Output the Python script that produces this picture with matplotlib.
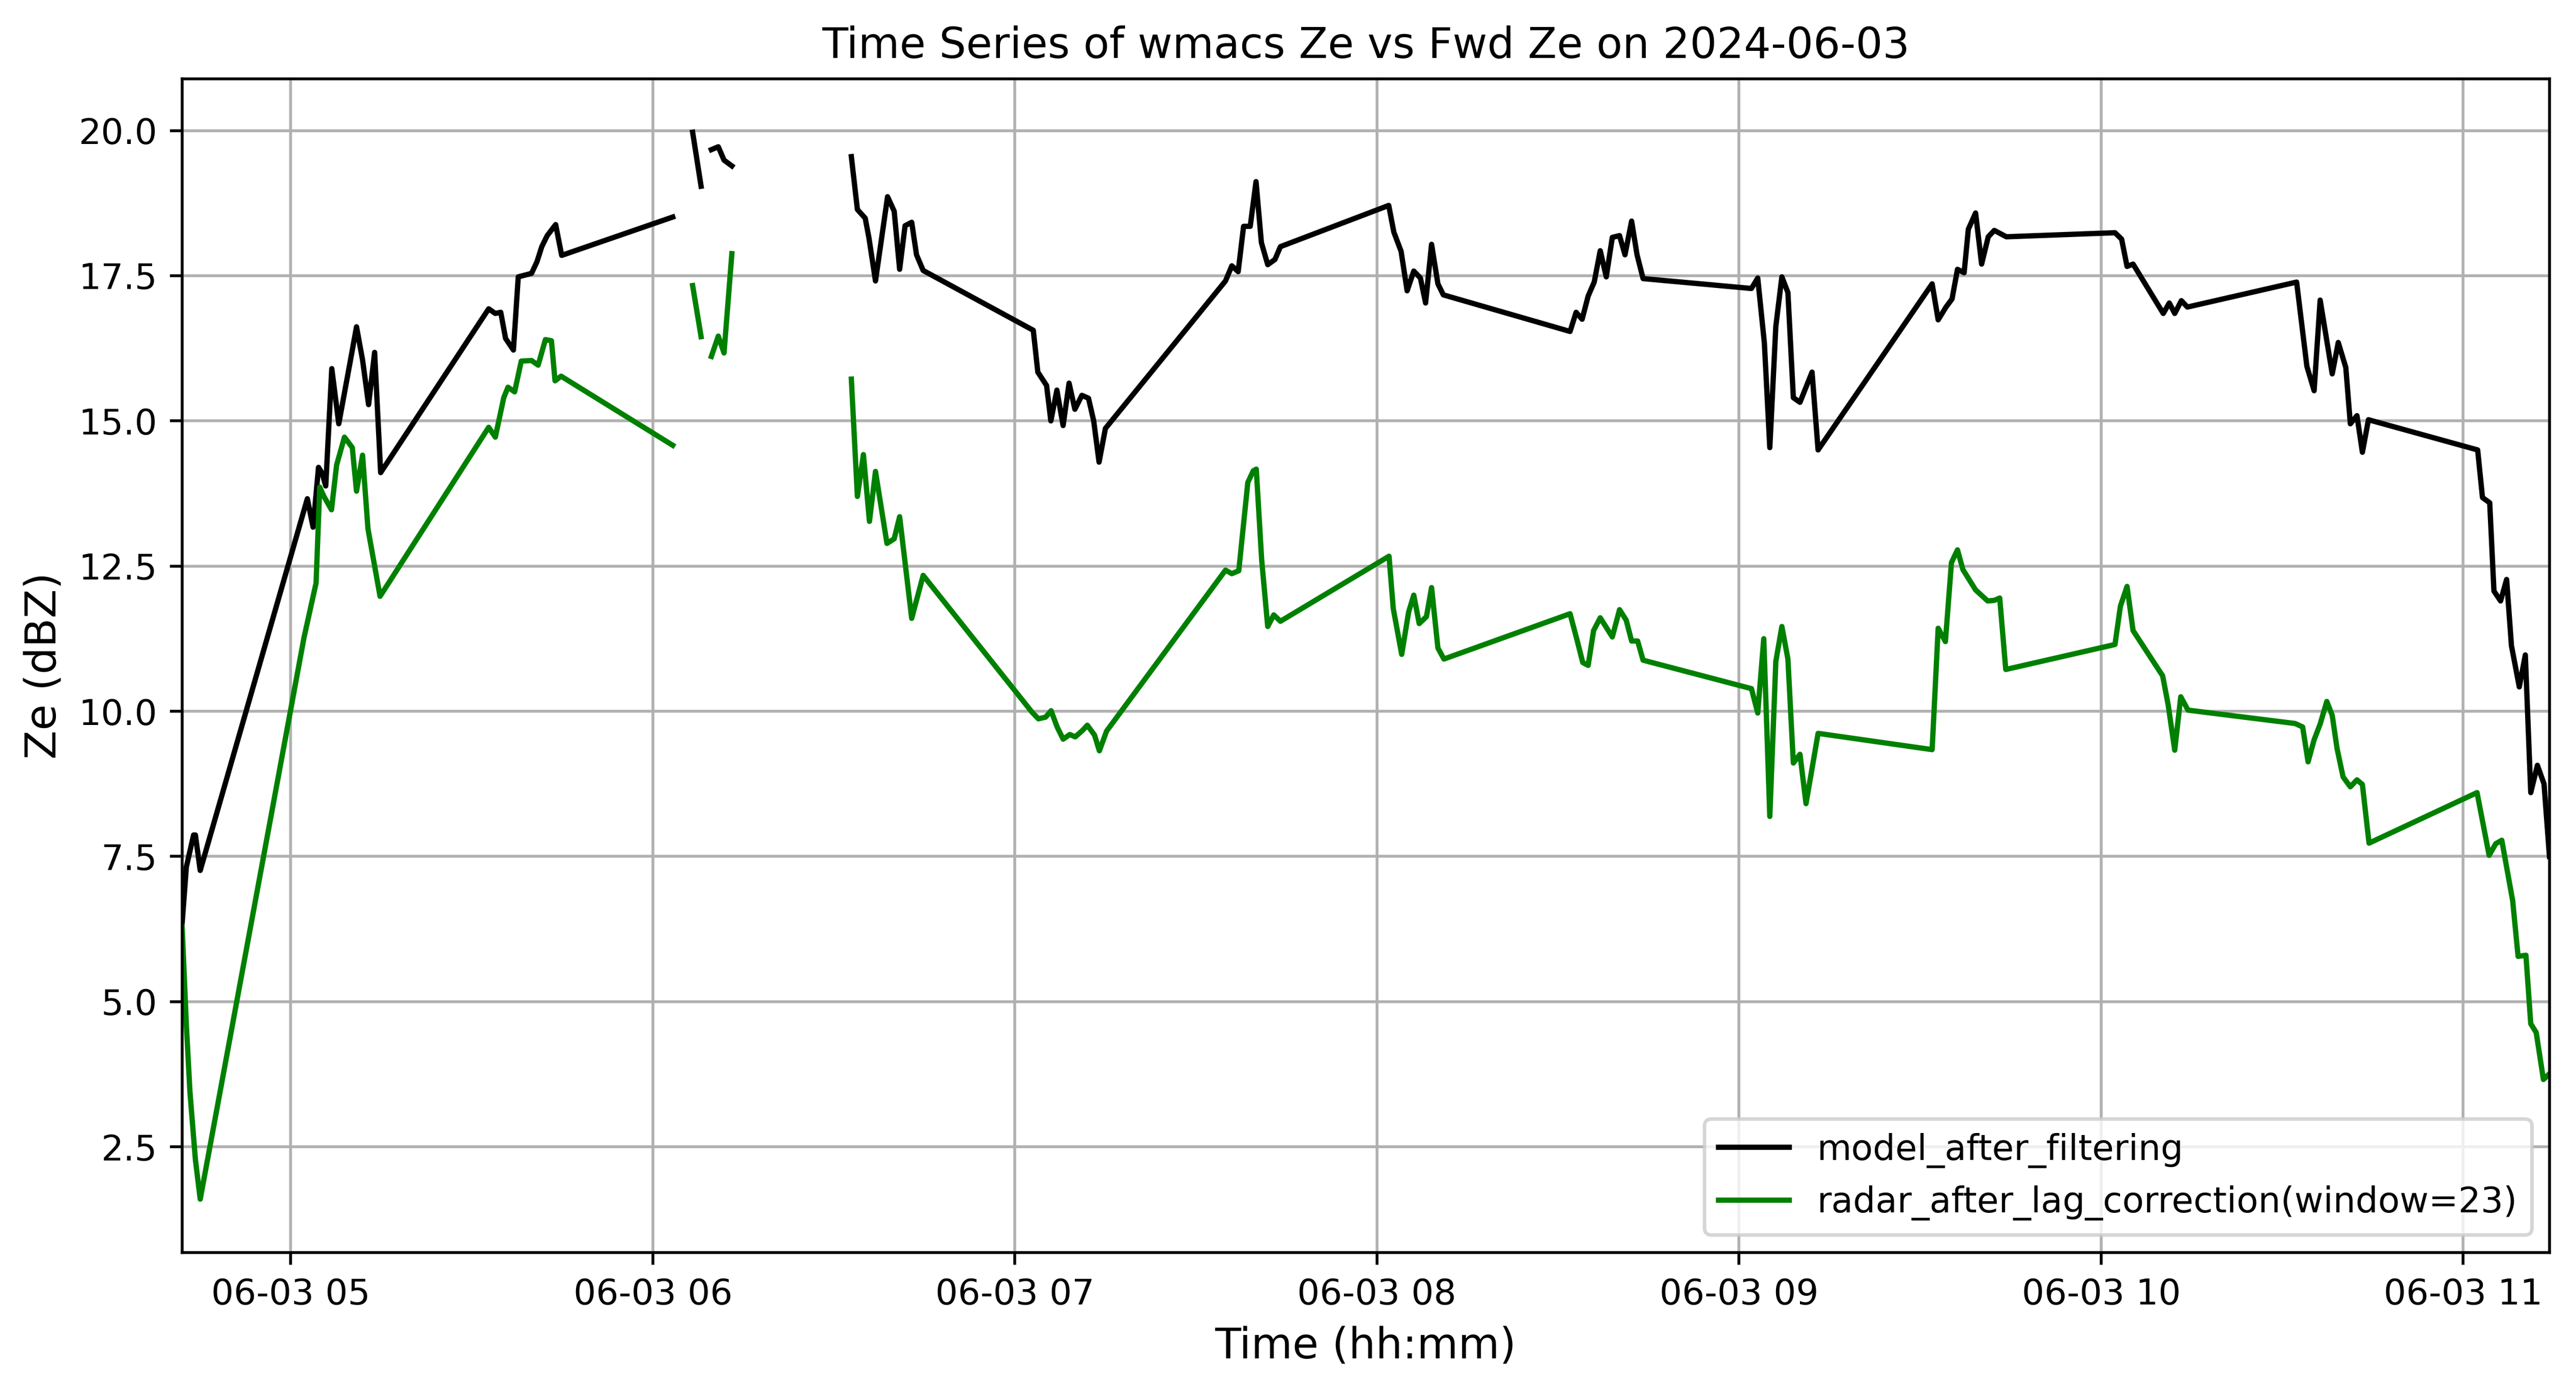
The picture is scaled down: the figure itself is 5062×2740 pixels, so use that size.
import numpy as np
import pandas as pd
import matplotlib
matplotlib.use("Agg")
import matplotlib.pyplot as plt
import matplotlib.dates as mdates
from matplotlib.ticker import MultipleLocator

# Minutes after 2024-06-03 05:00 and Ze values (dBZ); NaN marks gaps in the record
model_minutes = [
    -18.0, -17.3, -16.1, -15.8, -15.0, 2.75, 3.7, 4.6, 5.2, 5.8, 6.8, 7.96, 9.8, 10.9,
    11.9, 12.9, 13.9, 14.9, 32.8, 33.9, 34.8, 35.6, 36.9, 37.7, 39.9, 40.8, 41.6, 42.5,
    43.9, 44.9, 63.3, 65.0, 66.6, 68.0, 69.0, 69.7, 70.85, 71.8, 73.1, 80.0,
    92.9, 93.9, 95.2, 95.8, 96.9, 98.9, 100.0, 100.9, 101.8, 102.9, 103.7, 104.8,
    123.05, 123.8, 125.25, 125.96, 126.96, 127.99, 128.98, 129.94, 131.1, 132.2, 133.06,
    133.95, 135.0, 154.9, 155.95, 157.0, 157.9, 159.0, 159.96, 160.85, 161.9, 163.1,
    164.0, 181.95, 182.8, 184.0, 185.0, 186.1, 187.2, 188.06, 189.05, 190.1, 191.0,
    212.0, 213.0, 214.0, 215.0, 216.0, 217.0, 218.0, 219.0, 220.2, 221.1, 222.2, 223.1,
    224.1, 242.06, 243.1, 244.2, 245.1, 246.1, 247.1, 248.1, 249.0, 250.1, 252.1, 253.1,
    272.0, 273.0, 274.3, 275.3, 276.2, 277.3, 278.0, 279.2, 280.2, 281.3, 282.3, 284.3,
    302.3, 303.4, 304.3, 305.3, 310.3, 311.3, 312.2, 313.3, 314.3, 332.4, 334.1, 335.3,
    336.3, 338.3, 339.3, 340.55, 341.3, 342.4, 343.3, 344.3, 362.4, 363.2, 364.4, 365.1,
    366.2, 367.2, 368.0, 369.3, 370.3, 371.2, 372.3, 373.4, 374.3,
]
model_ze = [
    6.35, 7.32, 7.87, 7.87, 7.26, 13.66, 13.17, 14.2, 14.1, 13.88, 15.9, 14.95, 15.99, 16.62,
    16.05, 15.28, 16.18, 14.11, 16.93, 16.85, 16.87, 16.42, 16.22, 17.48, 17.54, 17.74, 18.0, 18.19,
    18.38, 17.85, 18.51, np.nan, 19.97, 19.04, np.nan, 19.67, 19.72, 19.49, 19.39, np.nan,
    19.55, 18.64, 18.49, 18.16, 17.41, 18.86, 18.61, 17.61, 18.36, 18.42, 17.86, 17.59,
    16.56, 15.84, 15.61, 15.0, 15.53, 14.92, 15.65, 15.2, 15.44, 15.39, 15.0,
    14.29, 14.87, 17.41, 17.67, 17.57, 18.35, 18.35, 19.12, 18.07, 17.69, 17.78,
    18.0, 18.71, 18.25, 17.92, 17.24, 17.58, 17.46, 17.03, 18.04, 17.36, 17.17,
    16.54, 16.87, 16.75, 17.15, 17.39, 17.93, 17.48, 18.16, 18.19, 17.86, 18.44, 17.86,
    17.45, 17.28, 17.46, 16.34, 14.54, 16.63, 17.48, 17.21, 15.40, 15.32, 15.84, 14.5,
    17.36, 16.74, 16.96, 17.1, 17.61, 17.55, 18.30, 18.58, 17.70, 18.17, 18.28, 18.17,
    18.24, 18.13, 17.66, 17.70, 16.85, 17.03, 16.85, 17.07, 16.96, 17.39, 15.94, 15.52,
    17.08, 15.81, 16.35, 15.92, 14.95, 15.09, 14.46, 15.02, 14.5, 13.68, 13.59, 12.07,
    11.9, 12.27, 11.13, 10.42, 10.97, 8.6, 9.07, 8.75, 7.5,
]

radar_minutes = [
    -18.0, -17.3, -16.7, -15.8, -15.0, 2.2, 4.2, 4.8, 5.5, 6.75, 7.6, 8.9, 10.2, 10.9,
    11.9, 12.8, 14.8, 32.8, 33.9, 35.3, 36.0, 37.1, 38.2, 39.9, 41.0, 42.2, 43.2, 43.8,
    44.8, 63.3, 65.0, 66.6, 68.0, 69.0, 69.7, 70.85, 71.8, 73.1, 80.0,
    92.9, 93.9, 94.9, 95.9, 96.9, 98.8, 100.0, 100.9, 102.9, 104.8,
    122.8, 123.9, 125.1, 126.0, 127.0, 128.0, 129.1, 130.0, 131.2, 132.0, 133.2, 134.0,
    135.2, 154.9, 155.95, 157.1, 158.6, 159.5, 160.0, 160.9, 161.9, 162.9, 164.0,
    182.0, 182.7, 184.1, 185.25, 186.1, 187.0, 188.2, 189.05, 190.1, 191.1,
    212.0, 213.2, 214.1, 215.0, 215.9, 217.0, 219.0, 220.2, 221.3, 222.2, 223.2, 224.1,
    242.06, 243.1, 244.1, 245.1, 246.1, 247.1, 248.1, 249.0, 250.1, 251.1, 253.1,
    272.0, 273.0, 274.2, 275.2, 276.2, 277.1, 279.2, 281.2, 282.3, 283.2, 284.2,
    302.3, 303.2, 304.3, 305.3, 310.2, 311.1, 312.2, 313.2, 314.4,
    332.15, 333.4, 334.3, 335.3, 336.3, 337.4, 338.3, 339.1, 340.1, 341.3, 342.4, 343.3,
    344.4, 362.3, 364.3, 365.4, 366.4, 368.2, 369.1, 370.4, 371.2, 372.1, 373.3, 374.3,
]
radar_ze = [
    6.29, 4.6, 3.44, 2.28, 1.60, 11.27, 12.21, 13.86, 13.7, 13.47, 14.24, 14.72, 14.54, 13.79,
    14.41, 13.14, 11.98, 14.89, 14.72, 15.4, 15.58, 15.5, 16.03, 16.04, 15.96, 16.4, 16.38, 15.69,
    15.77, 14.58, np.nan, 17.33, 16.45, np.nan, 16.11, 16.46, 16.17, 17.88, np.nan,
    15.72, 13.70, 14.42, 13.27, 14.13, 12.89, 12.97, 13.35, 11.6, 12.34,
    9.99, 9.87, 9.90, 10.01, 9.73, 9.52, 9.60, 9.56, 9.67, 9.76, 9.59, 9.32,
    9.66, 12.43, 12.37, 12.42, 13.94, 14.14, 14.17, 12.6, 11.46, 11.66, 11.55,
    12.67, 11.77, 10.98, 11.71, 12.0, 11.51, 11.63, 12.13, 11.09, 10.90,
    11.68, 11.21, 10.84, 10.79, 11.39, 11.61, 11.28, 11.75, 11.57, 11.21, 11.21, 10.88,
    10.39, 9.97, 11.25, 8.19, 10.86, 11.46, 10.9, 9.11, 9.26, 8.41, 9.62,
    9.34, 11.43, 11.2, 12.56, 12.78, 12.44, 12.09, 11.9, 11.91, 11.95, 10.72,
    11.15, 11.81, 12.15, 11.39, 10.61, 10.12, 9.33, 10.25, 10.02,
    9.79, 9.73, 9.13, 9.51, 9.78, 10.17, 9.93, 9.36, 8.87, 8.70, 8.82, 8.74,
    7.73, 8.60, 7.52, 7.72, 7.78, 6.74, 5.78, 5.80, 4.62, 4.47, 3.66, 3.76,
]

base_time = pd.Timestamp("2024-06-03 05:00:00")
model_t = base_time + pd.to_timedelta(model_minutes, unit="m")
radar_t = base_time + pd.to_timedelta(radar_minutes, unit="m")

fig = plt.figure(figsize=(5062 / 500, 2740 / 500), dpi=500)
ax = fig.add_subplot(111)
fig.subplots_adjust(left=0.0707, right=0.9897, bottom=0.1015, top=0.9434)

ax.plot(model_t, model_ze, color="black", linewidth=1.5, label="model_after_filtering")
ax.plot(radar_t, radar_ze, color="green", linewidth=1.5,
        label="radar_after_lag_correction(window=23)")

ax.set_xlim(min(model_t.min(), radar_t.min()), max(model_t.max(), radar_t.max()))
ax.xaxis.set_major_locator(mdates.HourLocator(interval=1))
ax.xaxis.set_major_formatter(mdates.DateFormatter("%m-%d %H"))
ax.yaxis.set_major_locator(MultipleLocator(2.5))

ax.set_title("Time Series of wmacs Ze vs Fwd Ze on 2024-06-03", fontsize=12)
ax.set_xlabel("Time (hh:mm)", fontsize=12)
ax.set_ylabel("Ze (dBZ)", fontsize=12)
ax.tick_params(labelsize=10)
ax.grid(True)
ax.legend(loc="lower right", fontsize=10)

fig.savefig("out.png", dpi=500)
